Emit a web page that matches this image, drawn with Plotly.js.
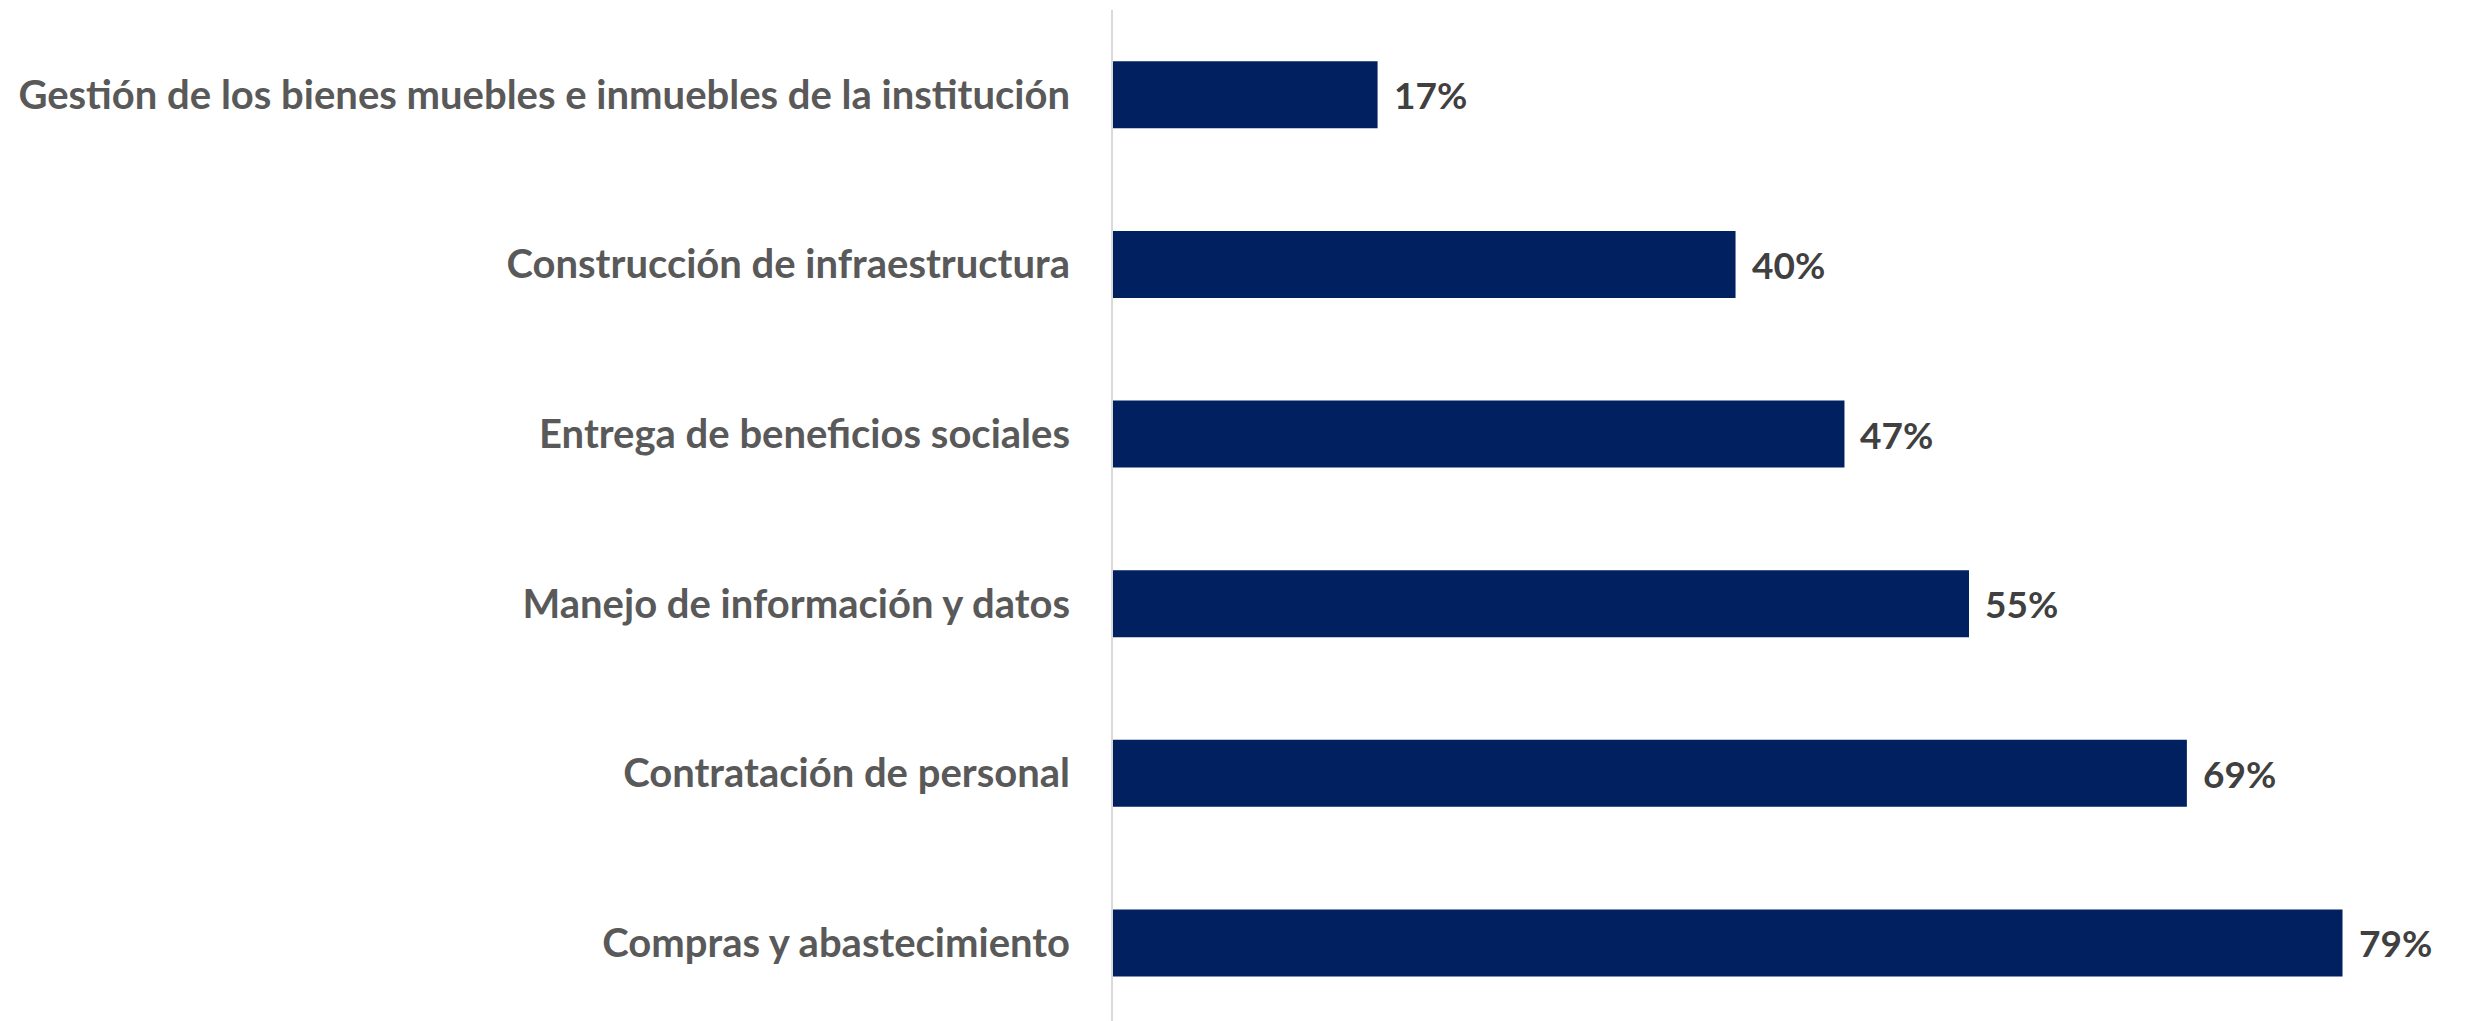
<!DOCTYPE html>
<html>
<head>
<meta charset="utf-8">
<script src="https://cdn.plot.ly/plotly-3.0.1.min.js"></script>
<style>html,body{margin:0;padding:0;background:#fff;}#chart{width:2468px;height:1021px;}</style>
</head>
<body>
<div id="chart"></div>
<script>
// Data (bottom to top order)
const categories = [
  "Compras y abastecimiento",
  "Contratación de personal",
  "Manejo de información y datos",
  "Entrega de beneficios sociales",
  "Construcción de infraestructura",
  "Gestión de los bienes muebles e inmuebles de la institución"
];
const values = [79, 69, 55, 47, 40, 17];
const valueLabels = ["79%", "69%", "55%", "47%", "40%", "17%"];

const FONT = "Lato, 'Open Sans', sans-serif";

const trace = {
  type: "bar",
  orientation: "h",
  x: values,
  y: categories,
  width: 0.395,
  marker: {color: "#002060"},
  hoverinfo: "none"
};

const annotations = values.map((v, i) => ({
  x: v, y: categories[i], xref: "x", yref: "y",
  text: "<b>" + valueLabels[i] + "</b>",
  showarrow: false, xanchor: "left", yanchor: "middle", xshift: 14,
  font: {family: FONT, size: 37, color: "#404040"}
}));

const layout = {
  width: 2468, height: 1021,
  margin: {l: 1113, r: 29, t: 10, b: 0, pad: 0},
  paper_bgcolor: "#ffffff", plot_bgcolor: "#ffffff",
  showlegend: false,
  xaxis: {range: [0, 85.2], showgrid: false, zeroline: false, showticklabels: false, showline: false, fixedrange: true},
  yaxis: {
    type: "category", categoryorder: "array", categoryarray: categories,
    range: [-0.46, 5.5],
    showgrid: false, zeroline: false,
    showline: true, linecolor: "#d9d9d9", linewidth: 2,
    ticks: "", ticklabelstandoff: 33,
    tickfont: {family: FONT, size: 40, color: "#595959", weight: "bold"}
  },
  annotations: annotations
};

Plotly.newPlot("chart", [trace], layout, {staticPlot: true, displayModeBar: false});
</script>
</body>
</html>
